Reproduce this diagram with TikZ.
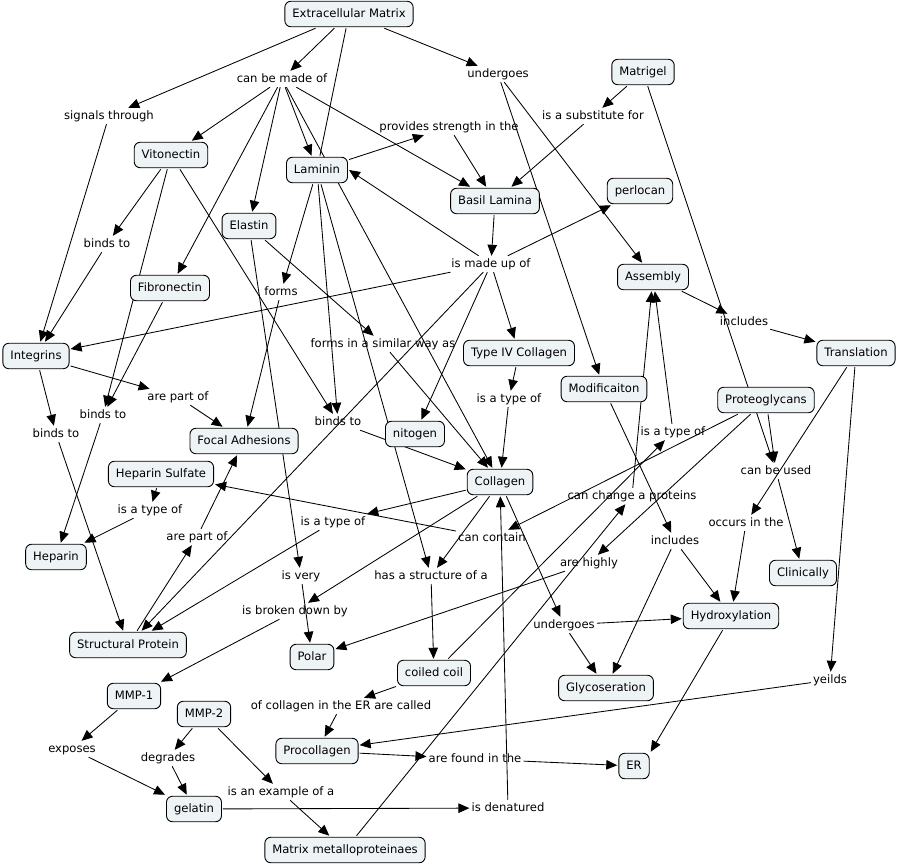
\documentclass[tikz,border=0pt]{standalone}
\usepackage{fontspec}
\setmainfont{DejaVu Sans}
\usetikzlibrary{arrows.meta}
\pgfdeclarelayer{bg}
\pgfsetlayers{bg,main}
\definecolor{cfill}{RGB}{238,243,246}
\tikzset{
  concept/.style={draw=black, line width=0.9pt, rounded corners=6pt, fill=cfill,
    inner xsep=7.5pt, inner ysep=0pt, minimum height=25.5pt,
    text height=8.6pt, text depth=2.4pt,
    font=\fontsize{11.6}{14}\selectfont, outer sep=1.5pt},
  lnk/.style={inner xsep=2pt, inner ysep=2.5pt, text height=8.6pt, text depth=2.4pt,
    font=\fontsize{11.6}{14}\selectfont},
  arr/.style={-{Triangle[length=11pt,width=9.5pt]}, line width=0.85pt},
  pl/.style={line width=0.85pt},
}
\begin{document}
\begin{tikzpicture}[x=1pt,y=-1pt]
\useasboundingbox (0,0) rectangle (900,865);
\begin{pgfonlayer}{bg}
\fill[white] (0,0) rectangle (900,865);
\end{pgfonlayer}
% concepts
\node[concept] (ecm) at (349,14) {Extracellular Matrix};
\node[concept] (matrigel) at (643,72) {Matrigel};
\node[concept] (vito) at (171,155) {Vitonectin};
\node[concept] (lam) at (317,170) {Laminin};
\node[concept] (basil) at (495,201) {Basil Lamina};
\node[concept] (perl) at (640,191) {perlocan};
\node[concept] (elas) at (249,226) {Elastin};
\node[concept] (assem) at (653,277) {Assembly};
\node[concept] (fibro) at (170,288) {Fibronectin};
\node[concept] (integ) at (36,356) {Integrins};
\node[concept] (t4) at (519,353) {Type IV Collagen};
\node[concept] (transl) at (856,353) {Translation};
\node[concept] (modif) at (604,389) {Modificaiton};
\node[concept] (proteo) at (766,400) {Proteoglycans};
\node[concept] (focal) at (244,441) {Focal Adhesions};
\node[concept] (nito) at (415,434) {nitogen};
\node[concept] (hs) at (161,474) {Heparin Sulfate};
\node[concept] (coll) at (500,482) {Collagen};
\node[concept] (hep) at (56,557) {Heparin};
\node[concept] (clin) at (803,573) {Clinically};
\node[concept] (sp) at (128,645) {Structural Protein};
\node[concept] (polar) at (312,657) {Polar};
\node[concept] (hydro) at (731,616) {Hydroxylation};
\node[concept] (coil) at (434,673) {coiled coil};
\node[concept] (glyco) at (606,688) {Glycoseration};
\node[concept] (mmp1) at (134,696) {MMP-1};
\node[concept] (mmp2) at (204,714) {MMP-2};
\node[concept] (proc) at (317,751) {Procollagen};
\node[concept] (er) at (634,766) {ER};
\node[concept] (gel) at (194,809) {gelatin};
\node[concept] (mmp) at (345,850) {Matrix metalloproteinaes};
% linking phrases
\node[lnk] (cbm) at (282,79) {can be made of};
\node[lnk] (und1) at (498,74) {undergoes};
\node[lnk] (sig) at (109,116) {signals through};
\node[lnk] (prov) at (449,127) {provides strength in the};
\node[lnk] (subst) at (593,116) {is a substitute for};
\node[lnk] (bind1) at (107,244) {binds to};
\node[lnk] (madeup) at (491,264) {is made up of};
\node[lnk] (forms) at (281,292) {forms};
\node[lnk] (incl1) at (744,322) {includes};
\node[lnk] (simil) at (383,344) {forms in a similar way as};
\node[lnk] (part1) at (178,397) {are part of};
\node[lnk] (bind2) at (103,415) {binds to};
\node[lnk] (bind3) at (338,422) {binds to};
\node[lnk] (bind4) at (56,434) {binds to};
\node[lnk] (type1) at (509,399) {is a type of};
\node[lnk] (type4) at (673,432) {is a type of};
\node[lnk] (used) at (776,471) {can be used};
\node[lnk] (change) at (632,496) {can change a proteins};
\node[lnk] (type3) at (150,510) {is a type of};
\node[lnk] (type2) at (333,522) {is a type of};
\node[lnk] (cont) at (492,538) {can contain};
\node[lnk] (occurs) at (746,523) {occurs in the};
\node[lnk] (incl2) at (675,541) {includes};
\node[lnk] (part2) at (197,537) {are part of};
\node[lnk] (highly) at (589,563) {are highly};
\node[lnk] (isvery) at (301,576) {is very};
\node[lnk] (struct) at (431,576) {has a structure of a};
\node[lnk] (broken) at (295,611) {is broken down by};
\node[lnk] (und2) at (564,625) {undergoes};
\node[lnk] (yeilds) at (830,680) {yeilds};
\node[lnk] (called) at (341,706) {of collagen in the ER are called};
\node[lnk] (expo) at (72,749) {exposes};
\node[lnk] (degr) at (168,758) {degrades};
\node[lnk] (found) at (475,759) {are found in the};
\node[lnk] (example) at (281,792) {is an example of a};
\node[lnk] (denat) at (508,808) {is denatured};
% connectors
\begin{pgfonlayer}{bg}
\draw[arr] (ecm) -- (cbm);
\draw[arr] (ecm) -- (sig);
\draw[arr] (ecm) -- (und1);
\draw[pl] (lam) -- (ecm);
\draw[arr] (cbm) -- (vito);
\draw[arr] (cbm) -- (fibro);
\draw[arr] (cbm) -- (elas);
\draw[arr] (cbm) -- (lam);
\draw[arr] (cbm) -- (coll);
\draw[arr] (cbm) -- (basil);
\draw[arr] (lam) -- (prov);
\draw[arr] (prov) -- (basil);
\draw[arr] (matrigel) -- (subst);
\draw[arr] (subst) -- (basil);
\draw[arr] (matrigel) -- (used);
\draw[arr] (und1) -- (assem);
\draw[arr] (und1) -- (modif);
\draw[arr] (basil) -- (madeup);
\draw[arr] (madeup) -- (perl);
\draw[arr] (madeup) -- (lam.east);
\draw[arr] (madeup) -- (integ);
\draw[arr] (madeup) -- (t4);
\draw[arr] (madeup) -- (nito);
\draw[arr] (madeup) -- (sp);
\draw[arr] (lam) -- (forms);
\draw[arr] (forms) -- (focal);
\draw[arr] (elas) -- (simil);
\draw[arr] (simil) -- (coll);
\draw[arr] (elas) -- (isvery);
\draw[arr] (isvery) -- (polar);
\draw[arr] (vito) -- (bind1);
\draw[arr] (bind1) -- (integ);
\draw[arr] (sig) -- (integ);
\draw[arr] (vito) -- (bind3);
\draw[arr] (vito) -- (bind2);
\draw[arr] (fibro) -- (bind2);
\draw[arr] (bind2) -- (hep);
\draw[arr] (integ) -- (bind4);
\draw[arr] (bind4) -- (sp);
\draw[arr] (integ) -- (part1);
\draw[arr] (part1) -- (focal);
\draw[arr] (lam) -- (bind3);
\draw[arr] (bind3) -- (coll);
\draw[arr] (lam) -- (struct);
\draw[arr] (t4) -- (type1);
\draw[arr] (type1) -- (coll);
\draw[arr] (coll) -- (type2);
\draw[arr] (type2) -- (sp);
\draw[arr] (proteo) -- (cont);
\draw[arr] (cont) -- (hs);
\draw[arr] (hs) -- (type3);
\draw[arr] (type3) -- (hep);
\draw[arr] (sp) -- (part2);
\draw[arr] (part2) -- (focal);
\draw[arr] (coll) -- (struct);
\draw[arr] (struct) -- (coil);
\draw[arr] (coll) -- (broken);
\draw[arr] (broken) -- (mmp1);
\draw[arr] (coll) -- (und2);
\draw[arr] (und2) -- (hydro);
\draw[arr] (und2) -- (glyco);
\draw[arr] (modif) -- (incl2);
\draw[arr] (incl2) -- (glyco);
\draw[arr] (incl2) -- (hydro);
\draw[arr] (change) -- (assem);
\draw[arr] (type4) -- (assem);
\draw[arr] (coil) -- (type4);
\draw[arr] (proteo) -- (highly);
\draw[arr] (highly) -- (polar);
\draw[arr] (mmp) -- (change);
\draw[arr] (denat) -- (coll);
\draw[arr] (gel) -- (denat);
\draw[arr] (mmp2) -- (degr);
\draw[arr] (degr) -- (gel);
\draw[arr] (mmp2) -- (example);
\draw[arr] (example) -- (mmp);
\draw[arr] (mmp1) -- (expo);
\draw[arr] (expo) -- (gel);
\draw[arr] (coil) -- (called);
\draw[arr] (called) -- (proc);
\draw[arr] (yeilds) -- (proc);
\draw[arr] (transl) -- (yeilds);
\draw[arr] (transl) -- (occurs);
\draw[arr] (occurs) -- (hydro);
\draw[arr] (hydro) -- (er.north east);
\draw[arr] (proc) -- (found);
\draw[arr] (found) -- (er);
\draw[arr] (assem) -- (incl1);
\draw[arr] (incl1) -- (transl);
\draw[arr] (proteo) -- (used);
\draw[arr] (used) -- (clin);
\end{pgfonlayer}
\end{tikzpicture}
\end{document}
